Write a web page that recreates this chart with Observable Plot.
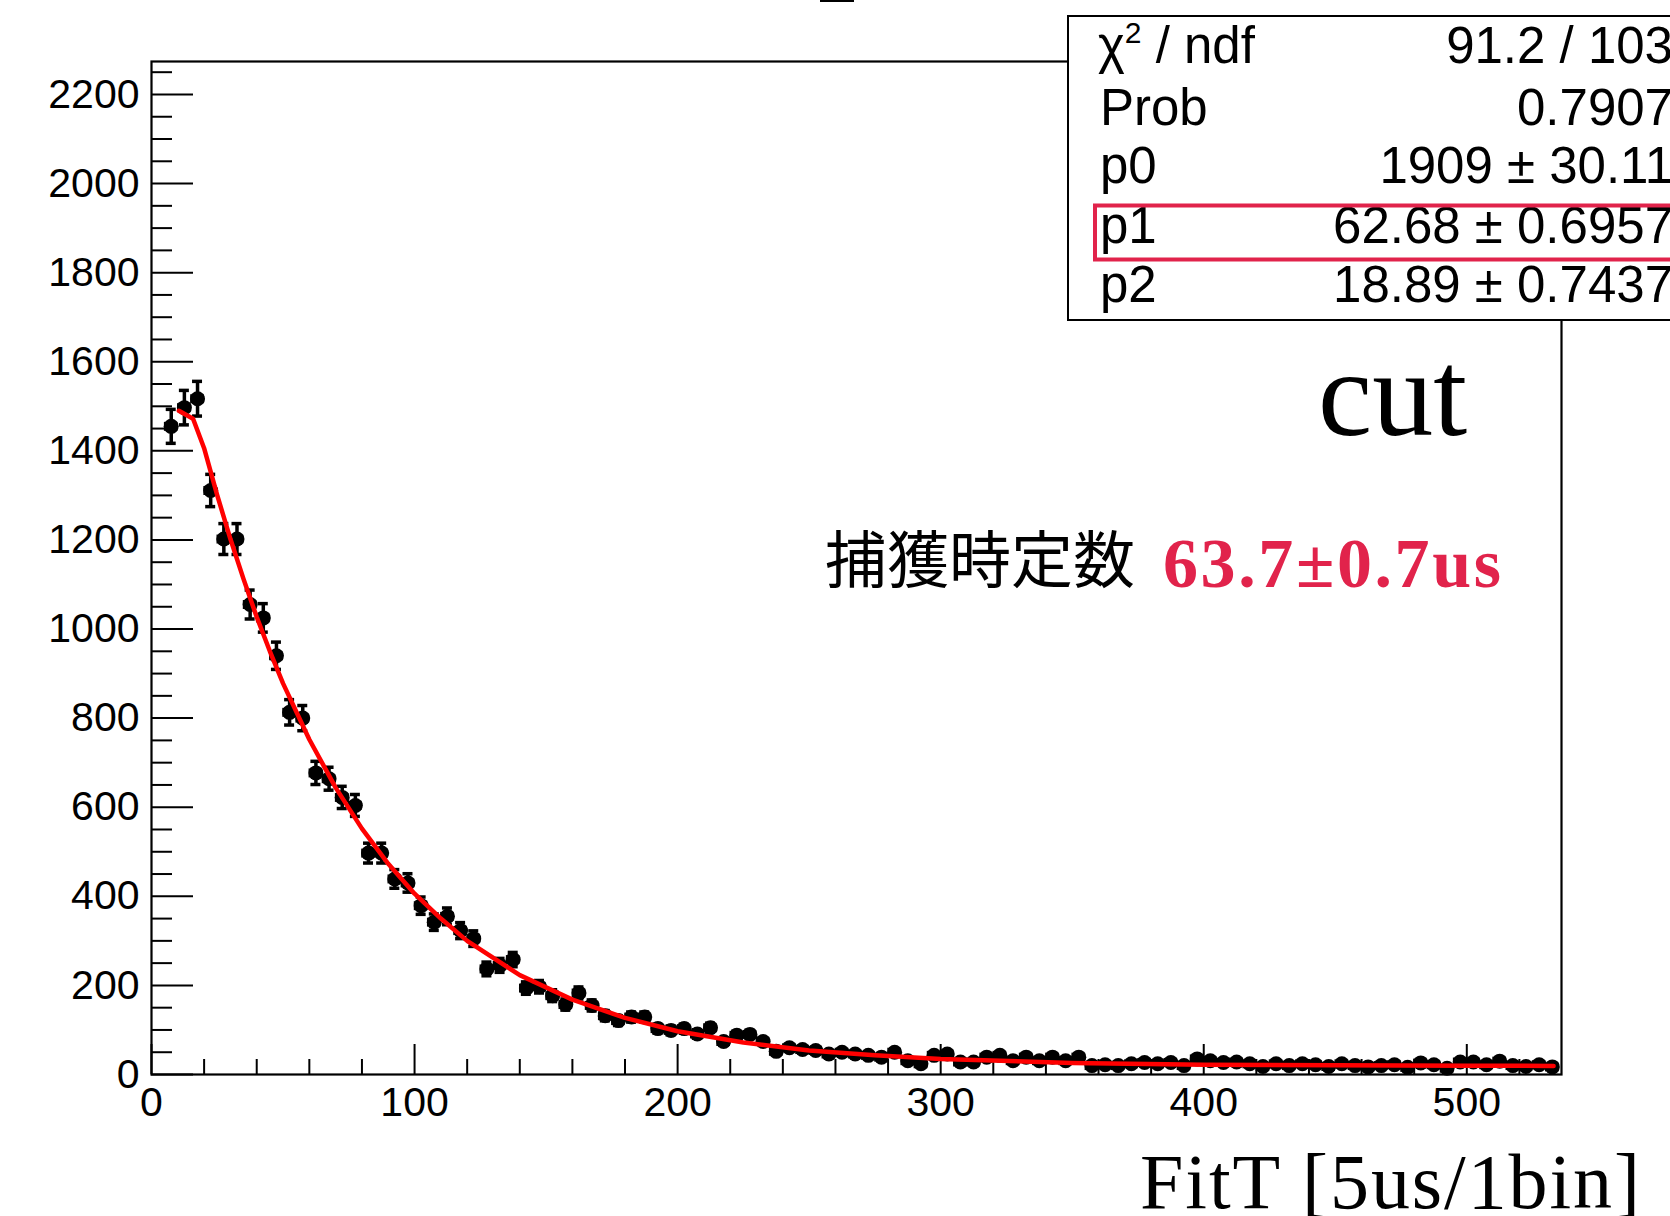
<!DOCTYPE html>
<html><head><meta charset="utf-8">
<script src="https://cdn.jsdelivr.net/npm/d3@7"></script>
<script src="https://cdn.jsdelivr.net/npm/@observablehq/plot@0.6"></script>
<style>
html,body{margin:0;padding:0;background:#fff;overflow:hidden;}
#chart svg{display:block;max-width:none;}
</style>
</head><body><div id="chart"></div>
<script>
// ---- data ----
const binCenters = [7.5,12.5,17.5,22.5,27.5,32.5,37.5,42.5,47.5,52.5,57.5,62.5,67.5,72.5,77.5,82.5,87.5,92.5,97.5,
  102.5,107.5,112.5,117.5,122.5,127.5,132.5,137.5,142.5,147.5,152.5,157.5,162.5,167.5,172.5,177.5,182.5,187.5,192.5,197.5,
  202.5,207.5,212.5,217.5,222.5,227.5,232.5,237.5,242.5,247.5,252.5,257.5,262.5,267.5,272.5,277.5,282.5,287.5,292.5,297.5,
  302.5,307.5,312.5,317.5,322.5,327.5,332.5,337.5,342.5,347.5,352.5,357.5,362.5,367.5,372.5,377.5,382.5,387.5,392.5,397.5,
  402.5,407.5,412.5,417.5,422.5,427.5,432.5,437.5,442.5,447.5,452.5,457.5,462.5,467.5,472.5,477.5,482.5,487.5,492.5,497.5,
  502.5,507.5,512.5,517.5,522.5,527.5,532.5];
const counts = [1455,1497,1517,1311,1202,1202,1055,1025,940,813,800,677,664,622,604,497,497,439,430,
  379,342,355,323,305,237,245,258,194,197,177,157,183,155,132,121,129,129,103,99,
  103,91,105,74,88,90,74,52,60,56,54,46,50,46,43,39,50,31,24,43,
  46,28,28,39,43,31,39,31,39,31,39,20,22,20,24,27,24,27,20,35,
  31,27,28,24,18,24,20,24,22,18,24,20,17,20,22,16,26,22,14,28,
  28,22,30,20,18,22,17];
// fitted curve as drawn (red)
const fitX = [10.4,15.8,20,25,30,35,40,45,50,60,70,80,90,100,110,120,140,160,180,200,225,250,275,300,350,400,450,500,533];
const fitY = [1490,1472,1406,1300,1202,1112,1027,950,878,752,644,552,473,406,350,300,223,168,127,97,72,54,43,35,26,22,20.5,19.6,19.3];
// axes
const xTickValues = [0,100,200,300,400,500];
const xTickLabels = ["0","100","200","300","400","500"];
const yTickValues = [0,200,400,600,800,1000,1200,1400,1600,1800,2000,2200];
const yTickLabels = ["0","200","400","600","800","1000","1200","1400","1600","1800","2000","2200"];
const xMinorTicks = d3.range(0, 536, 20).filter(v => v % 100 !== 0);
const yMinorTicks = d3.range(0, 2274, 50).filter(v => v % 200 !== 0);
// stats box
const statNames = ["p0","p1","p2"];
const statValues = ["1909 ± 30.11","62.68 ± 0.6957","18.89 ± 0.7437"];
const chi2Text = "91.2 / 103";
const probText = "0.7907";

// ---- layout ----
const W = 1670, H = 1216, ML = 151, MR = 109, MT = 61, MB = 142;
const xDomain = [0, 536], yDomain = [0, 2274];
const pxX = (W - ML - MR) / (xDomain[1] - xDomain[0]);
const pxY = (H - MT - MB) / (yDomain[1] - yDomain[0]);
const SANS = "'Liberation Sans', Arial, Helvetica, sans-serif";
const SERIF = "'Liberation Serif', 'Times New Roman', serif";
const CRIMSON = "#e1234b";

const data = binCenters.map((x, i) => ({x, n: counts[i], e: Math.sqrt(counts[i])}));
const fit = fitX.map((x, i) => ({x, y: fitY[i]}));

const svg = Plot.plot({
  width: W, height: H,
  marginLeft: ML, marginRight: MR, marginTop: MT, marginBottom: MB,
  x: {domain: xDomain, axis: null},
  y: {domain: yDomain, axis: null},
  style: {background: "white", fontFamily: SANS, overflow: "hidden"},
  marks: [
    Plot.frame({stroke: "#000", strokeWidth: 2.2}),
    Plot.ruleY(yTickValues, {y: d => d, x1: 0, x2: 42 / pxX, stroke: "#000", strokeWidth: 2}),
    Plot.ruleY(yMinorTicks, {y: d => d, x1: 0, x2: 21 / pxX, stroke: "#000", strokeWidth: 2}),
    Plot.ruleX(xTickValues, {x: d => d, y1: 0, y2: 30 / pxY, stroke: "#000", strokeWidth: 2}),
    Plot.ruleX(xMinorTicks, {x: d => d, y1: 0, y2: 15 / pxY, stroke: "#000", strokeWidth: 2}),
    Plot.text(yTickValues, {x: 0, y: d => d, text: (d, i) => yTickLabels[i], textAnchor: "end", dx: -12, fontSize: 41, fontFamily: SANS, fill: "#000"}),
    Plot.text(xTickValues, {x: d => d, y: 0, text: (d, i) => xTickLabels[i], dy: 28, fontSize: 41, fontFamily: SANS, fill: "#000"}),
    // error bars
    Plot.ruleX(data, {x: "x", y1: d => d.n - d.e, y2: d => d.n + d.e, stroke: "#000", strokeWidth: 3.5}),
    Plot.ruleY(data, {y: d => d.n - d.e, x1: d => d.x - 1.9, x2: d => d.x + 1.9, stroke: "#000", strokeWidth: 3.5}),
    Plot.ruleY(data, {y: d => d.n + d.e, x1: d => d.x - 1.9, x2: d => d.x + 1.9, stroke: "#000", strokeWidth: 3.5}),
    Plot.ruleY(data, {y: "n", x1: d => d.x - 2.6, x2: d => d.x + 2.6, stroke: "#000", strokeWidth: 9}),
    Plot.dot(data, {x: "x", y: "n", r: 7.5, fill: "#000", stroke: null}),
    // fit
    Plot.line(fit, {x: "x", y: "y", stroke: "#ff0000", strokeWidth: 4.5})
  ]
});
document.getElementById("chart").appendChild(svg);

const s = d3.select(svg);
// tiny mark at the very top (cut-off title remnant)
s.append("rect").attr("x", 820).attr("y", 0).attr("width", 34).attr("height", 2).attr("fill", "#000");

// stats box
s.append("rect").attr("x", 1068).attr("y", 16).attr("width", 700).attr("height", 304)
  .attr("fill", "#fff").attr("stroke", "#000").attr("stroke-width", 2);
const rowY = [63, 125, 183, 243, 302];
const fs = 51;
const chi = s.append("text").attr("x", 1098).attr("y", rowY[0]).attr("text-anchor", "start")
  .attr("font-family", SANS).attr("font-size", fs).attr("fill", "#000");
chi.append("tspan").text("χ");
chi.append("tspan").attr("font-size", 30).attr("dy", -20).text("2");
chi.append("tspan").attr("dy", 20).text(" / ndf");
s.append("text").attr("x", 1100).attr("y", rowY[1]).attr("text-anchor", "start")
  .attr("font-family", SANS).attr("font-size", fs).attr("fill", "#000").text("Prob");
statNames.forEach((n, i) => {
  s.append("text").attr("x", 1100).attr("y", rowY[i + 2]).attr("text-anchor", "start")
    .attr("font-family", SANS).attr("font-size", fs).attr("fill", "#000").text(n);
});
const vals = [chi2Text, probText, ...statValues];
vals.forEach((v, i) => {
  s.append("text").attr("x", 1673).attr("y", rowY[i]).attr("text-anchor", "end")
    .attr("font-family", SANS).attr("font-size", fs).attr("fill", "#000").text(v);
});
// highlight p1
s.append("rect").attr("x", 1095).attr("y", 205.5).attr("width", 700).attr("height", 54)
  .attr("fill", "none").attr("stroke", CRIMSON).attr("stroke-width", 4);

// annotations
s.append("text").attr("x", 1318).attr("y", 435).attr("text-anchor", "start")
  .attr("font-family", SERIF).attr("font-size", 122).attr("fill", "#000").text("cut");
s.append("text").attr("x", 825).attr("y", 583).attr("text-anchor", "start")
  .attr("font-family", "'Noto Sans CJK JP', 'Noto Sans CJK SC', sans-serif")
  .attr("font-size", 62).attr("fill", "#000").text("捕獲時定数");
s.append("text").attr("x", 1163).attr("y", 587).attr("text-anchor", "start")
  .attr("font-family", SERIF).attr("font-weight", "bold")
  .attr("font-size", 70).attr("fill", CRIMSON).attr("textLength", 338).attr("lengthAdjust", "spacing").text("63.7±0.7us");
s.append("text").attr("x", 1140).attr("y", 1208).attr("text-anchor", "start")
  .attr("font-family", SERIF).attr("font-size", 78)
  .attr("fill", "#000").attr("textLength", 500).attr("lengthAdjust", "spacing").text("FitT [5us/1bin]");
</script>
</body></html>
